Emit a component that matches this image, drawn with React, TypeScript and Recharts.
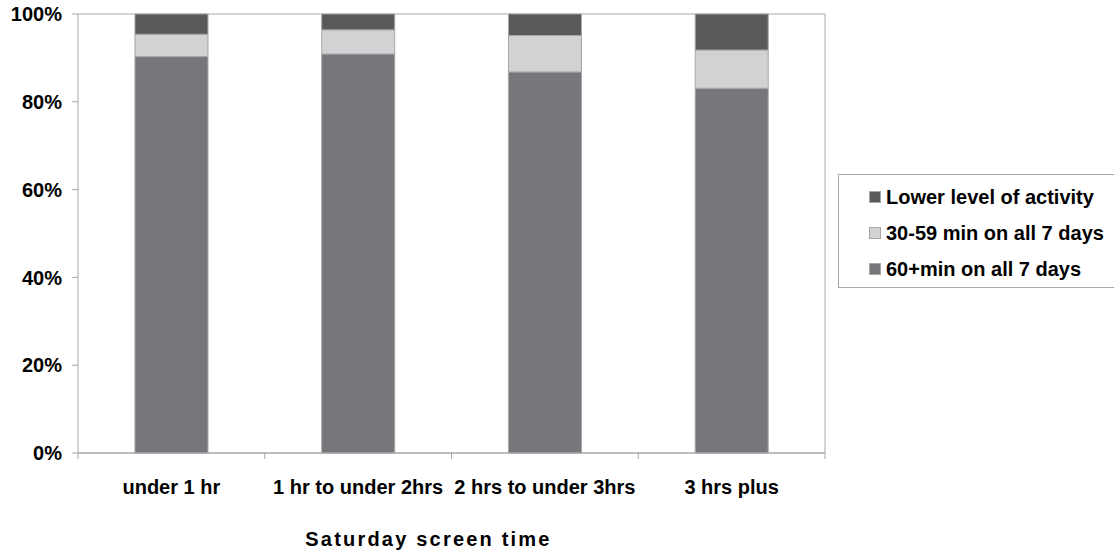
import { BarChart, Bar, XAxis, YAxis, CartesianGrid, Legend } from 'recharts';

const categories = ['under 1 hr', '1 hr to under 2hrs', '2 hrs to under 3hrs', '3 hrs plus'];
const sixtyPlus = [90.3, 90.9, 86.8, 83.1];
const thirtyTo59 = [5.1, 5.5, 8.3, 8.7];
const lowerLevel = [4.6, 3.6, 4.9, 8.2];
const yTicks = [0, 20, 40, 60, 80, 100];

const data = categories.map((name, i) => ({
  name,
  sixty: sixtyPlus[i],
  thirty: thirtyTo59[i],
  lower: lowerLevel[i],
}));

const FONT = '"Liberation Sans", Arial, Helvetica, sans-serif';
const GRID = '#a7a7a9';
const TICK_SIZE = 6;
const TICK_MARGIN = 21;

const legendItems = [
  { label: 'Lower level of activity', color: '#58595b' },
  { label: '30-59 min on all 7 days', color: '#d1d2d4' },
  { label: '60+min on all 7 days', color: '#76777b' },
];

const XTick = (props: any) => {
  const { x, y, payload, index, visibleTicksCount } = props;
  const half = payload.offset || 93;
  const axisY = y - TICK_SIZE - TICK_MARGIN;
  return (
    <g>
      <line x1={x - half} y1={axisY} x2={x - half} y2={axisY + TICK_SIZE} stroke={GRID} />
      {index === visibleTicksCount - 1 && (
        <line x1={x + half} y1={axisY} x2={x + half} y2={axisY + TICK_SIZE} stroke={GRID} />
      )}
      <text x={x} y={y} dy="0.71em" textAnchor="middle" fill="#000" fontSize={20} fontWeight="bold" fontFamily={FONT}>
        {payload.value}
      </text>
    </g>
  );
};

const AxisTitle = (props: any) => {
  const { viewBox } = props;
  return (
    <text
      x={viewBox.x + viewBox.width / 2 - 23}
      y={viewBox.y + viewBox.height - 7}
      textAnchor="middle"
      fill="#000"
      fontSize={20}
      fontWeight="bold"
      letterSpacing={2.2}
      fontFamily={FONT}
    >
      Saturday screen time
    </text>
  );
};

const LegendBox = () => (
  <div
    style={{
      border: `1px solid ${GRID}`,
      width: 290,
      height: 114,
      padding: '4px 0 0 0',
      background: '#fff',
      fontFamily: FONT,
      fontWeight: 'bold',
      fontSize: 20,
      color: '#000',
      boxSizing: 'border-box',
    }}
  >
    {legendItems.map((item) => (
      <div key={item.label} style={{ display: 'flex', alignItems: 'center', height: 36, paddingLeft: 30, whiteSpace: 'nowrap' }}>
        <span
          style={{
            display: 'inline-block',
            width: 12,
            height: 12,
            background: item.color,
            border: '1px solid #a5a6a8',
            boxSizing: 'border-box',
            marginRight: 5,
          }}
        />
        {item.label}
      </div>
    ))}
  </div>
);

export default function App() {
  return (
    <div style={{ position: 'absolute', left: 0, top: 0, width: 1114, height: 553, overflow: 'hidden', background: '#fff' }}>
      <BarChart
        width={1114}
        height={553}
        data={data}
        margin={{ top: 14, right: 288, left: 0, bottom: 0 }}
        barCategoryGap="30.5%"
      >
        <CartesianGrid vertical={false} stroke={GRID} />
        <XAxis
          dataKey="name"
          height={100}
          axisLine={{ stroke: GRID }}
          tickLine={false}
          tickSize={TICK_SIZE}
          tickMargin={TICK_MARGIN}
          tick={<XTick />}
          interval={0}
          label={<AxisTitle />}
        />
        <YAxis
          yAxisId="left"
          width={78}
          domain={[0, 100]}
          ticks={yTicks}
          tickFormatter={(v: number) => `${v}%`}
          axisLine={{ stroke: GRID }}
          tickLine={{ stroke: GRID }}
          tickSize={TICK_SIZE}
          tickMargin={10}
          tick={{ fill: '#000', fontSize: 20, fontWeight: 'bold', fontFamily: FONT }}
        />
        <YAxis
          yAxisId="right"
          orientation="right"
          width={1}
          tick={false}
          tickLine={false}
          axisLine={{ stroke: GRID }}
        />
        <Legend
          verticalAlign="middle"
          align="center"
          content={<LegendBox />}
          wrapperStyle={{ left: 838, top: 174, width: 290 }}
        />
        <Bar yAxisId="left" dataKey="sixty" stackId="a" fill="#76777b" stroke="#a5a6a8" isAnimationActive={false} />
        <Bar yAxisId="left" dataKey="thirty" stackId="a" fill="#d1d2d4" stroke="#a5a6a8" isAnimationActive={false} />
        <Bar yAxisId="left" dataKey="lower" stackId="a" fill="#58595b" stroke="#a5a6a8" isAnimationActive={false} />
      </BarChart>
    </div>
  );
}
